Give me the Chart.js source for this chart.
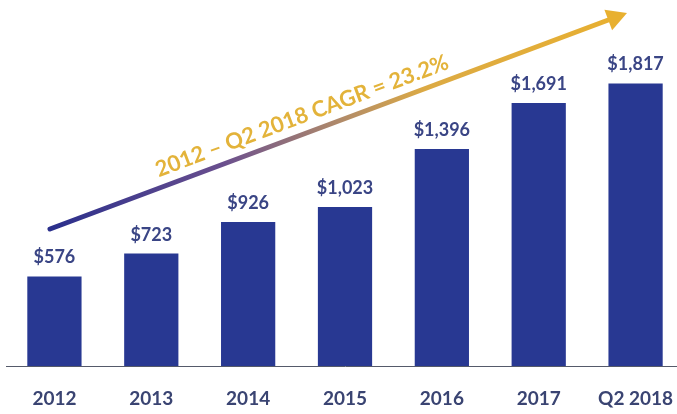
<!DOCTYPE html>
<html>
<head>
<meta charset="utf-8">
<script src="https://cdn.jsdelivr.net/npm/chart.js@4.4.0/dist/chart.umd.min.js"></script>
<style>
  html, body { margin: 0; padding: 0; background: #fff; overflow: hidden; }
  #wrap { position: absolute; left: 6px; top: 0; width: 678px; height: 414px; }
</style>
</head>
<body>
<div id="wrap"><canvas id="barChart"></canvas></div>
<script>
const categories = ['2012', '2013', '2014', '2015', '2016', '2017', 'Q2 2018'];
const values = [576, 723, 926, 1023, 1396, 1691, 1817];
const cagrText = '2012 \u2013 Q2 2018 CAGR = 23.2%';

const fontFamily = 'Lato, "Open Sans", sans-serif';

// value labels above bars
const valueLabels = {
  id: 'valueLabels',
  afterDatasetsDraw(chart) {
    const ctx = chart.ctx;
    const meta = chart.getDatasetMeta(0);
    ctx.save();
    ctx.font = 'bold 18px ' + fontFamily;
    ctx.fillStyle = '#3a4585';
    ctx.textAlign = 'center';
    ctx.textBaseline = 'alphabetic';
    meta.data.forEach((bar, i) => {
      ctx.fillText('$' + values[i].toLocaleString('en-US'), bar.x, bar.y - 13);
    });
    ctx.restore();
  }
};

// gradient growth arrow with CAGR text
const cagrArrow = {
  id: 'cagrArrow',
  afterDraw(chart) {
    const ctx = chart.ctx;
    const x0 = 44, y0 = 229, x1 = 621, y1 = 13;
    const ang = Math.atan2(y1 - y0, x1 - x0);
    const grad = ctx.createLinearGradient(x0, y0, x1, y1);
    grad.addColorStop(0, '#2a2f8c');
    grad.addColorStop(0.3, '#6a4f8e');
    grad.addColorStop(0.5, '#b08a6a');
    grad.addColorStop(0.65, '#dcaa44');
    grad.addColorStop(1, '#e8b030');
    ctx.save();
    const headLen = 20, headW = 11;
    const bx = x1 - headLen * Math.cos(ang), by = y1 - headLen * Math.sin(ang);
    ctx.strokeStyle = grad;
    ctx.lineWidth = 5;
    ctx.lineCap = 'round';
    ctx.beginPath();
    ctx.moveTo(x0, y0);
    ctx.lineTo(bx, by);
    ctx.stroke();
    ctx.fillStyle = '#e8b030';
    ctx.beginPath();
    ctx.moveTo(x1, y1);
    ctx.lineTo(bx + headW * Math.sin(ang), by - headW * Math.cos(ang));
    ctx.lineTo(bx - headW * Math.sin(ang), by + headW * Math.cos(ang));
    ctx.closePath();
    ctx.fill();

    ctx.translate(296, 116);
    ctx.rotate(ang);
    ctx.font = 'bold 22px ' + fontFamily;
    ctx.fillStyle = '#e3b33a';
    ctx.textAlign = 'center';
    ctx.textBaseline = 'middle';
    ctx.fillText(cagrText, 0, 0);
    ctx.restore();
  }
};

new Chart(document.getElementById('barChart'), {
  type: 'bar',
  data: {
    labels: categories,
    datasets: [{
      data: values,
      backgroundColor: '#283892',
      categoryPercentage: 1,
      barPercentage: 0.56
    }]
  },
  options: {
    responsive: true,
    maintainAspectRatio: false,
    animation: false,
    layout: { padding: 0 },
    plugins: {
      legend: { display: false },
      tooltip: { enabled: false }
    },
    scales: {
      x: {
        grid: { display: false, drawTicks: false },
        border: { display: true, color: '#555a6a', width: 1 },
        ticks: {
          padding: 21,
          color: '#3a4472',
          font: { family: fontFamily, size: 19, weight: 'bold' }
        },
        afterFit(scale) {
          scale.height = 48;
          scale.paddingLeft = 0;
          scale.paddingRight = 0;
        }
      },
      y: {
        display: false,
        min: 0,
        max: 2354
      }
    }
  },
  plugins: [valueLabels, cagrArrow]
});
</script>
</body>
</html>
